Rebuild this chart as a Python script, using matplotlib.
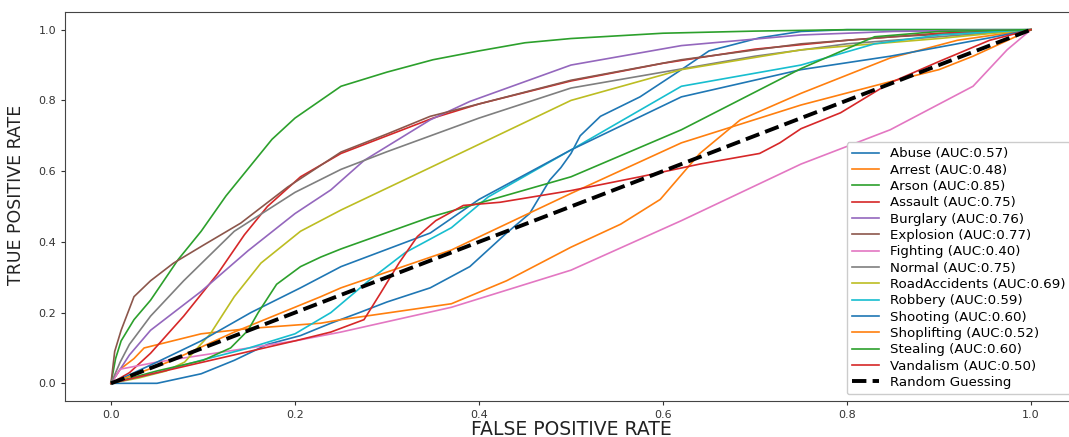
import matplotlib
matplotlib.use("Agg")
import matplotlib.pyplot as plt

labels = ["Abuse (AUC:0.57)", "Arrest (AUC:0.48)", "Arson (AUC:0.85)", "Assault (AUC:0.75)",
          "Burglary (AUC:0.76)", "Explosion (AUC:0.77)", "Fighting (AUC:0.40)", "Normal (AUC:0.75)",
          "RoadAccidents (AUC:0.69)", "Robbery (AUC:0.59)", "Shooting (AUC:0.60)",
          "Shoplifting (AUC:0.52)", "Stealing (AUC:0.60)", "Vandalism (AUC:0.50)"]

abuse_fpr = [0, 0.05, 0.098, 0.134, 0.17, 0.206, 0.239, 0.27, 0.3, 0.347, 0.39, 0.43, 0.455, 0.477, 0.489, 0.5, 0.51, 0.532, 0.575, 0.62, 0.65, 0.705, 0.75, 0.8, 1.0]
abuse_tpr = [0, 0.0, 0.027, 0.065, 0.11, 0.135, 0.17, 0.2, 0.23, 0.27, 0.33, 0.425, 0.48, 0.575, 0.61, 0.65, 0.7, 0.755, 0.81, 0.887, 0.94, 0.977, 0.995, 1.0, 1.0]

arrest_fpr = [0, 0.01, 0.025, 0.036, 0.098, 0.15, 0.228, 0.25, 0.37, 0.43, 0.5, 0.554, 0.597, 0.64, 0.684, 0.75, 0.847, 0.92, 1]
arrest_tpr = [0, 0.04, 0.07, 0.1, 0.14, 0.155, 0.17, 0.18, 0.225, 0.29, 0.385, 0.45, 0.52, 0.65, 0.745, 0.82, 0.92, 0.97, 1]

arson_fpr = [0, 0.005, 0.011, 0.025, 0.043, 0.073, 0.098, 0.125, 0.15, 0.175, 0.2, 0.25, 0.3, 0.35, 0.4, 0.45, 0.5, 0.6, 0.7, 0.8, 1]
arson_tpr = [0, 0.07, 0.12, 0.18, 0.235, 0.35, 0.43, 0.53, 0.61, 0.69, 0.75, 0.84, 0.88, 0.915, 0.94, 0.963, 0.975, 0.99, 0.996, 1, 1]

assault_fpr = [0, 0.02, 0.043, 0.079, 0.116, 0.145, 0.17, 0.206, 0.25, 0.3, 0.35, 0.4, 0.5, 0.6, 0.7, 0.8, 0.9, 1]
assault_tpr = [0, 0.03, 0.085, 0.19, 0.31, 0.42, 0.5, 0.584, 0.65, 0.70, 0.75, 0.79, 0.855, 0.905, 0.945, 0.97, 0.99, 1]

burglary_fpr = [0, 0.01, 0.02, 0.043, 0.098, 0.149, 0.2, 0.239, 0.275, 0.347, 0.39, 0.5, 0.62, 0.75, 0.85, 1]
burglary_tpr = [0, 0.04, 0.08, 0.15, 0.26, 0.375, 0.48, 0.547, 0.63, 0.745, 0.797, 0.9, 0.955, 0.985, 0.995, 1]

explosion_fpr = [0, 0.004, 0.011, 0.025, 0.043, 0.068, 0.1, 0.141, 0.192, 0.25, 0.3, 0.347, 0.4, 0.5, 0.62, 0.75, 0.85, 1]
explosion_tpr = [0, 0.09, 0.15, 0.245, 0.29, 0.34, 0.39, 0.453, 0.555, 0.654, 0.705, 0.755, 0.79, 0.857, 0.915, 0.96, 0.98, 1]

fighting_fpr = [0, 0.01, 0.03, 0.05, 0.1, 0.15, 0.2, 0.25, 0.37, 0.5, 0.62, 0.75, 0.847, 0.937, 0.974, 1]
fighting_tpr = [0, 0.04, 0.05, 0.06, 0.08, 0.1, 0.12, 0.145, 0.215, 0.32, 0.46, 0.62, 0.717, 0.84, 0.943, 1]

normal_fpr = [0, 0.01, 0.02, 0.043, 0.079, 0.134, 0.2, 0.25, 0.3, 0.4, 0.5, 0.6, 0.7, 0.8, 0.9, 1]
normal_tpr = [0, 0.06, 0.11, 0.19, 0.29, 0.43, 0.54, 0.605, 0.655, 0.75, 0.835, 0.88, 0.925, 0.96, 0.98, 1]

road_fpr = [0, 0.03, 0.06, 0.08, 0.108, 0.134, 0.163, 0.206, 0.25, 0.347, 0.5, 0.62, 0.75, 0.9, 1]
road_tpr = [0, 0.015, 0.035, 0.06, 0.14, 0.245, 0.34, 0.43, 0.49, 0.61, 0.80, 0.887, 0.943, 0.975, 1]

robbery_fpr = [0, 0.05, 0.098, 0.15, 0.2, 0.239, 0.28, 0.32, 0.37, 0.41, 0.5, 0.62, 0.75, 0.83, 0.9, 1]
robbery_tpr = [0, 0.03, 0.065, 0.1, 0.14, 0.2, 0.29, 0.37, 0.44, 0.527, 0.66, 0.84, 0.9, 0.96, 0.985, 1]

shooting_fpr = [0, 0.05, 0.098, 0.152, 0.206, 0.228, 0.25, 0.347, 0.4, 0.5, 0.62, 0.75, 0.847, 0.955, 1]
shooting_tpr = [0, 0.06, 0.12, 0.2, 0.27, 0.3, 0.33, 0.425, 0.52, 0.66, 0.81, 0.887, 0.925, 0.977, 1]

shoplifting_fpr = [0, 0.062, 0.134, 0.228, 0.25, 0.37, 0.5, 0.62, 0.75, 0.847, 0.9, 0.937, 1]
shoplifting_tpr = [0, 0.06, 0.145, 0.245, 0.27, 0.377, 0.537, 0.68, 0.787, 0.853, 0.887, 0.925, 1]

stealing_fpr = [0, 0.05, 0.1, 0.13, 0.149, 0.16, 0.18, 0.206, 0.228, 0.25, 0.347, 0.5, 0.62, 0.75, 0.83, 0.9, 1]
stealing_tpr = [0, 0.035, 0.065, 0.1, 0.15, 0.2, 0.28, 0.33, 0.357, 0.38, 0.47, 0.584, 0.717, 0.89, 0.98, 0.995, 1]

vandalism_fpr = [0, 0.05, 0.1, 0.15, 0.2, 0.239, 0.275, 0.293, 0.313, 0.333, 0.353, 0.383, 0.423, 0.5, 0.575, 0.64, 0.705, 0.727, 0.75, 0.793, 0.847, 0.9, 0.955, 1]
vandalism_tpr = [0, 0.03, 0.06, 0.09, 0.12, 0.145, 0.18, 0.255, 0.34, 0.415, 0.46, 0.503, 0.512, 0.545, 0.584, 0.62, 0.65, 0.68, 0.72, 0.765, 0.85, 0.91, 0.97, 1]

random_fpr = [0, 1]
random_tpr = [0, 1]

curves = [(abuse_fpr, abuse_tpr), (arrest_fpr, arrest_tpr), (arson_fpr, arson_tpr),
          (assault_fpr, assault_tpr), (burglary_fpr, burglary_tpr), (explosion_fpr, explosion_tpr),
          (fighting_fpr, fighting_tpr), (normal_fpr, normal_tpr), (road_fpr, road_tpr),
          (robbery_fpr, robbery_tpr), (shooting_fpr, shooting_tpr), (shoplifting_fpr, shoplifting_tpr),
          (stealing_fpr, stealing_tpr), (vandalism_fpr, vandalism_tpr)]

W, H = 1069, 437
fig = plt.figure(figsize=(W / 100, H / 100), dpi=100)
ax = fig.add_axes([65 / W, 36 / H, (1077 - 65) / W, (401 - 12) / H])

for (f, t), lab in zip(curves, labels):
    ax.plot(f, t, lw=1.2, label=lab)
ax.plot(random_fpr, random_tpr, 'k--', lw=2.8, label='Random Guessing')

ax.set_xlim(-0.05, 1.05)
ax.set_ylim(-0.05, 1.05)
ax.set_xticks([0, 0.2, 0.4, 0.6, 0.8, 1.0])
ax.set_yticks([0, 0.2, 0.4, 0.6, 0.8, 1.0])
ax.tick_params(labelsize=8, colors='#333333', length=3)
for s in ax.spines.values():
    s.set_color('#444444')

ax.set_xlabel('FALSE POSITIVE RATE', fontsize=13.5, color='#222222', labelpad=0)
ax.set_ylabel('TRUE POSITIVE RATE', fontsize=12.5, color='#222222', labelpad=6,
              fontfamily=['Liberation Sans Narrow', 'DejaVu Sans'])
ax.yaxis.set_label_coords(-0.04, 0.53)

leg = ax.legend(loc='lower right', fontsize=9.6, labelspacing=0.25, handlelength=2.0,
                handletextpad=0.8, borderaxespad=0.5, framealpha=1.0)

fig.savefig('out.png', dpi=100)
